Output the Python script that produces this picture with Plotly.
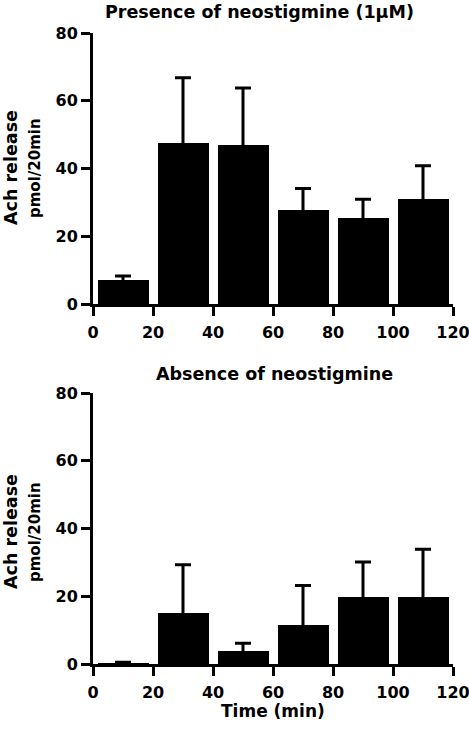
import plotly.graph_objects as go

time_min = [10, 30, 50, 70, 90, 110]
presence_vals = [7.1, 47.4, 47.0, 27.7, 25.4, 30.9]
presence_err = [1.2, 19.4, 16.8, 6.4, 5.5, 9.9]
absence_vals = [0.2, 15.2, 3.8, 11.6, 19.8, 19.8]
absence_err = [0.3, 14.1, 2.3, 11.6, 10.3, 14.1]
x_ticks = [0, 20, 40, 60, 80, 100, 120]
y_ticks = [0, 20, 40, 60, 80]

W, H = 469, 731
FONT = "DejaVu Sans"
SINK = 0.6  # start error whiskers slightly inside the bar so the lower cap is hidden

def px_x(p):
    return p / W

def px_y(p):
    return 1 - p / H

fig = go.Figure()

def add_panel(vals, errs, xa, ya):
    fig.add_trace(go.Bar(
        x=time_min, y=vals, width=17,
        marker=dict(color="black", line=dict(width=0)),
        xaxis=xa, yaxis=ya, showlegend=False, hoverinfo="skip",
    ))
    starts = [max(v - SINK, 0) for v in vals]
    fig.add_trace(go.Scatter(
        x=time_min, y=starts, mode="markers",
        marker=dict(size=0.1, color="rgba(0,0,0,0)"),
        error_y=dict(type="data", array=[v + e - s for v, e, s in zip(vals, errs, starts)],
                     arrayminus=[0] * len(errs), symmetric=False,
                     color="black", thickness=3, width=8),
        xaxis=xa, yaxis=ya, showlegend=False, hoverinfo="skip",
    ))

add_panel(presence_vals, presence_err, "x", "y")
add_panel(absence_vals, absence_err, "x2", "y2")

xdom = [px_x(93), px_x(453)]
axis_common = dict(
    showline=True, linecolor="black", linewidth=3,
    ticks="outside", ticklen=9, tickwidth=3, tickcolor="black",
    showgrid=False, zeroline=False, automargin=False,
    ticklabeloverflow="allow",
    tickfont=dict(family=FONT, size=16, color="black", weight="bold"),
)
x_common = dict(axis_common, ticklabelstandoff=3)

fig.update_layout(
    width=W, height=H,
    margin=dict(l=0, r=0, t=0, b=0, autoexpand=False),
    paper_bgcolor="white", plot_bgcolor="white",
    bargap=0,
    xaxis=dict(domain=xdom, range=[0, 120], tickvals=x_ticks, anchor="y", **x_common),
    yaxis=dict(domain=[px_y(304), px_y(33)], range=[0, 80], tickvals=y_ticks, anchor="x", **axis_common),
    xaxis2=dict(domain=xdom, range=[0, 120], tickvals=x_ticks, anchor="y2", **x_common),
    yaxis2=dict(domain=[px_y(664), px_y(393)], range=[0, 80], tickvals=y_ticks, anchor="x2", **axis_common),
)

def ann(text, x, y, size, angle=0):
    fig.add_annotation(
        text=text, x=px_x(x), y=px_y(y), xref="paper", yref="paper",
        showarrow=False, textangle=angle, xanchor="center", yanchor="middle",
        font=dict(family=FONT, size=size, color="black", weight="bold"),
    )

ann("Presence of neostigmine (1μM)", 259, 12, 17.5)
ann("Absence of neostigmine", 274, 374, 17.5)
ann("Time (min)", 273, 711, 17)
ann("Ach release", 11, 168, 17.5, -90)
ann("pmol/20min", 35, 168, 15, -90)
ann("Ach release", 11, 532, 17.5, -90)
ann("pmol/20min", 35, 532, 15, -90)

fig.write_html(
    "out.html",
    config={"displayModeBar": False},
    post_script="document.body.style.margin='0';document.body.style.overflow='hidden';",
)
